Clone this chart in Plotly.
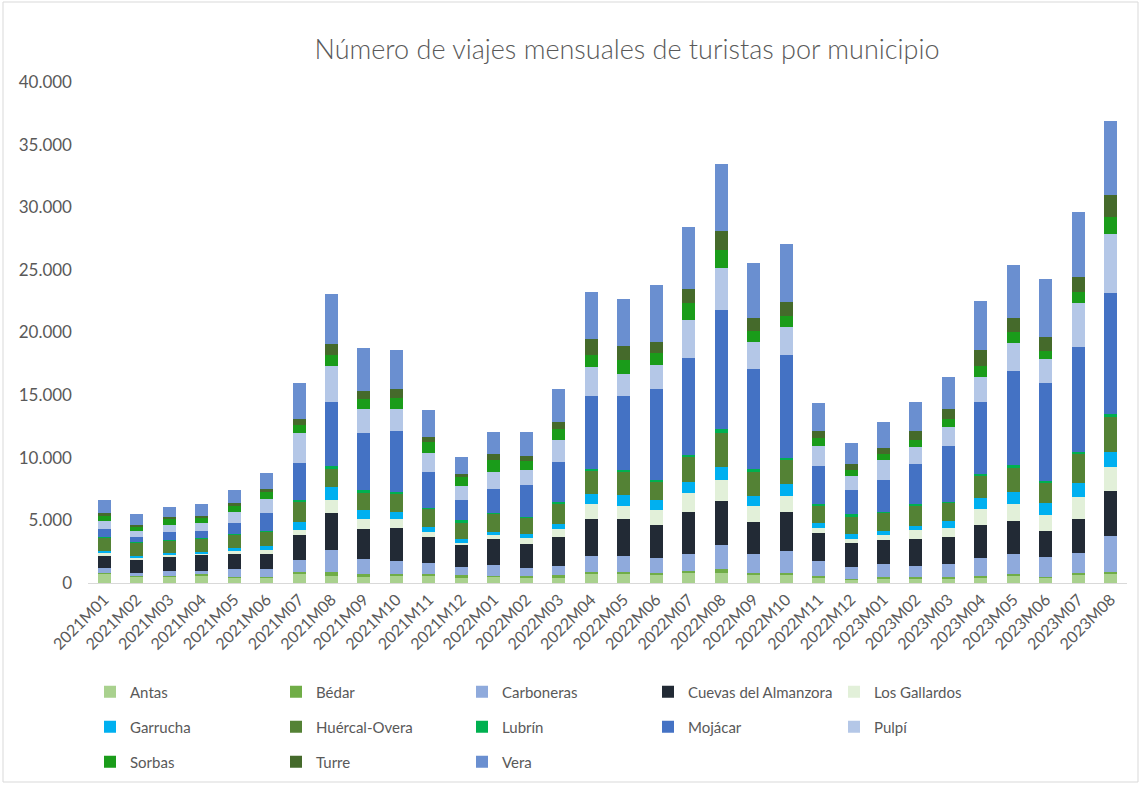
import plotly.graph_objects as go

months = ["2021M01","2021M02","2021M03","2021M04","2021M05","2021M06","2021M07","2021M08",
          "2021M09","2021M10","2021M11","2021M12","2022M01","2022M02","2022M03","2022M04",
          "2022M05","2022M06","2022M07","2022M08","2022M09","2022M10","2022M11","2022M12",
          "2023M01","2023M02","2023M03","2023M04","2023M05","2023M06","2023M07","2023M08"]

antas      = [760,540,540,620,460,460,760,580,500,580,620,460,480,420,460,680,680,600,780,780,600,600,420,290,370,370,370,450,580,420,660,720]
bedar      = [60,50,50,80,50,50,130,320,210,160,80,140,40,100,140,210,160,210,190,350,210,180,100,60,130,110,110,130,110,80,130,130]
carboneras = [400,220,340,270,590,590,930,1730,1200,1040,880,690,900,690,780,1280,1280,1200,1360,1890,1490,1760,1220,940,1020,850,1040,1420,1600,1540,1570,2930]
cuevas     = [1010,1090,1180,1300,1250,1230,2000,2940,2380,2610,2060,1710,2130,1890,2260,2930,2980,2590,3360,3550,2540,3100,2240,1920,1920,2160,2130,2660,2700,2080,2780,3580]
gallardos  = [140,130,130,110,190,320,400,1020,800,690,400,210,290,460,640,1230,1070,1200,1520,1650,1330,1330,450,270,370,720,770,1280,1280,1280,1740,1870]
garrucha   = [180,130,160,130,270,290,640,1040,720,620,400,270,240,320,400,750,880,800,880,1040,800,960,400,400,370,370,560,850,1010,1010,1120,1250]
huercal    = [1070,1040,1010,1040,1090,1200,1580,1460,1340,1430,1500,1300,1460,1340,1700,1900,1840,1520,1970,2700,1920,1890,1390,1460,1440,1580,1420,1730,1920,1600,2290,2800]
lubrin     = [50,50,50,50,50,50,160,260,240,130,80,240,30,30,80,130,130,110,130,320,210,160,80,130,50,110,80,160,210,130,190,210]
mojacar    = [620,460,640,590,880,1360,2980,5070,4580,4850,2850,1630,1920,2610,3200,5820,5950,7230,7790,9500,8000,8220,3070,1980,2560,3220,4420,5790,7520,7810,8340,9650]
pulpi      = [660,480,560,640,800,1180,2380,2930,1900,1820,1500,1070,1360,1170,1760,2340,1730,1970,2990,3380,2110,2220,1550,1090,1600,1360,1520,1970,2220,1920,3540,4740]
sorbas     = [400,350,430,350,590,530,640,860,800,880,900,720,1010,720,860,930,1120,960,1360,1440,900,880,640,480,450,530,640,850,880,690,880,1360]
turre      = [220,130,160,160,130,210,460,880,690,690,380,270,400,380,560,1280,1090,850,1150,1520,1010,1170,560,460,530,720,850,1280,1090,1120,1180,1710]
vera       = [1040,800,850,940,1040,1330,2880,3980,3420,3100,2140,1360,1810,1920,2620,3780,3780,4540,4940,5360,4430,4590,2220,1680,2060,2380,2560,3940,4260,4560,5220,5970]

series = [
    ("Antas", antas, "#A9D18E"),
    ("Bédar", bedar, "#70AD47"),
    ("Carboneras", carboneras, "#8FAADC"),
    ("Cuevas del Almanzora", cuevas, "#222A35"),
    ("Los Gallardos", gallardos, "#E2F0D9"),
    ("Garrucha", garrucha, "#00B0F0"),
    ("Huércal-Overa", huercal, "#548235"),
    ("Lubrín", lubrin, "#00B050"),
    ("Mojácar", mojacar, "#4472C4"),
    ("Pulpí", pulpi, "#B4C7E7"),
    ("Sorbas", sorbas, "#1A9C1A"),
    ("Turre", turre, "#456A2B"),
    ("Vera", vera, "#6A8FD0"),
]

FONT = "Lato, 'Open Sans', sans-serif"
GREY = "#595959"

legend_names = ["legend", "legend2", "legend3"]
fig = go.Figure()
for i, (name, vals, col) in enumerate(series):
    fig.add_trace(go.Bar(
        x=months, y=vals, name=name,
        marker=dict(color=col, line=dict(width=0)),
        legend=legend_names[i // 5],
    ))

# plot area: x 88..1127 px, y 82..583 px
W, H = 1143, 785
L, R, T, B = 88, 16, 82, 202
ph = H - T - B
pw = W - L - R

def py(p):
    return (H - B - p) / ph

def px(p):
    return (p - L) / pw

leg_common = dict(orientation="h", xanchor="left", yanchor="middle",
                  entrywidth=141, entrywidthmode="pixels",
                  font=dict(family=FONT, size=15, color=GREY),
                  bgcolor="rgba(0,0,0,0)", itemclick=False, itemdoubleclick=False,
                  traceorder="normal")

fig.update_layout(
    width=W, height=H,
    margin=dict(l=L, r=R, t=T, b=B, autoexpand=False),
    paper_bgcolor="white", plot_bgcolor="white",
    barmode="stack", bargap=0.6,
    separators=",.",
    title=dict(text="Número de viajes mensuales de turistas por municipio",
               xref="container", x=627 / W, xanchor="center",
               yref="container", y=1 - 50 / H, yanchor="middle",
               font=dict(family=FONT, size=27, color=GREY, weight=300)),
    font=dict(family=FONT, color=GREY),
    legend=dict(x=px(90), y=py(692), **leg_common),
    legend2=dict(x=px(90), y=py(727), **leg_common),
    legend3=dict(x=px(90), y=py(762), **leg_common),
    xaxis=dict(type="category", tickangle=-45, showgrid=False,
               showline=True, linecolor="#D9D9D9", linewidth=1,
               ticks="", tickfont=dict(family=FONT, size=16, color=GREY)),
    yaxis=dict(range=[0, 40000], tickvals=[0,5000,10000,15000,20000,25000,30000,35000,40000],
               tickformat=",d", showgrid=False, zeroline=False, showline=False,
               ticks="", ticklabelstandoff=15,
               tickfont=dict(family=FONT, size=17, color=GREY)),
    shapes=[dict(type="rect", xref="paper", yref="paper",
                 x0=px(3), x1=px(1138), y0=py(782), y1=py(2),
                 line=dict(color="#D9D9D9", width=1), fillcolor="rgba(0,0,0,0)", layer="below")],
)

fig.write_html("out.html", config={"displayModeBar": False},
               post_script="document.body.style.margin='0';")
